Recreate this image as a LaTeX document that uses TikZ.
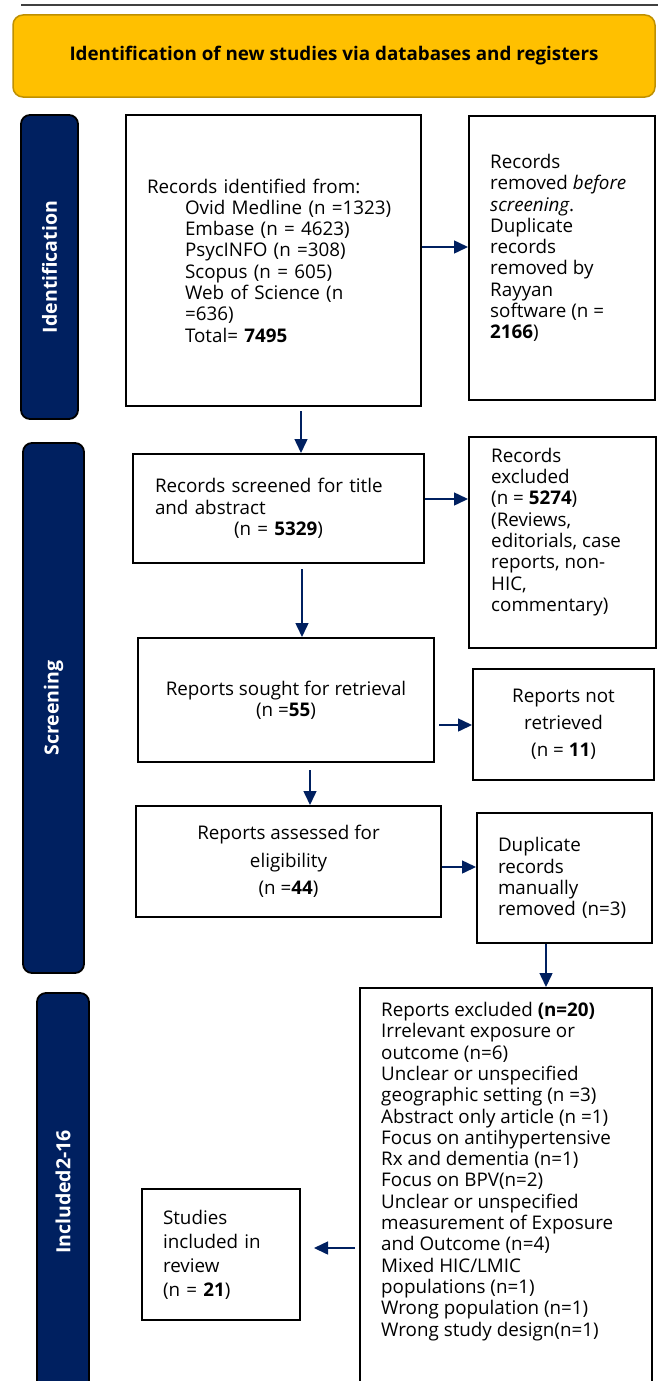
\documentclass[tikz,border=0pt]{standalone}
\usepackage{fontspec}
\setmainfont{Open Sans}
\usetikzlibrary{arrows.meta}
\definecolor{navy}{HTML}{002060}
\definecolor{gold}{HTML}{FFC000}
\definecolor{golddark}{HTML}{BF9000}
\definecolor{rulegray}{HTML}{404040}
\newcommand{\bodysize}{\fontsize{18.8}{21.3}\selectfont}
\newcommand{\barsize}{\fontsize{19.5}{22}\selectfont}
\begin{document}
\begin{tikzpicture}[x=1pt,y=-1pt,
  box/.style={draw=black, line width=2pt, fill=white, inner sep=0pt, font=\bodysize},
  txt/.style={inner sep=0pt, align=left, font=\bodysize},
  bar/.style={draw=black, line width=1.8pt, fill=navy, rounded corners=9pt, inner sep=0pt},
  barlabel/.style={rotate=90, text=white, font=\barsize\bfseries, inner sep=0pt},
  arr/.style={draw=navy, line width=1.5pt, -{Triangle[length=14pt,width=13pt]}},
  titlebox/.style={draw=golddark, line width=1.5pt, fill=gold, rounded corners=10pt, font=\fontsize{18.8}{22}\selectfont\bfseries}]
\useasboundingbox (0,0) rectangle (658,1381);
\clip (0,0) rectangle (658,1381);
\fill[white] (0,0) rectangle (658,1381);

\draw[draw=rulegray, line width=2pt] (21,5) -- (658,5);
\node[titlebox, minimum width=642pt, minimum height=82pt] (title) at (334,56) {Identification of new studies via databases and registers};

% side bars
\node[bar, minimum width=57pt, minimum height=304pt] (bar1) at (49.5,267) {};
\node[barlabel] (lab1) at (bar1.center) {Identification};
\node[bar, minimum width=61pt, minimum height=530pt] (bar2) at (53.5,708) {};
\node[barlabel] (lab2) at (bar2.center) {Screening};
\node[bar, minimum width=52pt, minimum height=427pt] (bar3) at (63,1206.5) {};
\node[barlabel] (lab3) at (63,1192) {Included2-16};

% boxes
\node[box, minimum width=295pt, minimum height=291pt, text width=253pt, inner xsep=21pt, align=left] (b1) at (273.5,260.5)
{Records identified from:\\
\hspace*{38pt}Ovid Medline (n =1323)\\
\hspace*{38pt}Embase (n = 4623)\\
\hspace*{38pt}PsycINFO (n =308)\\
\hspace*{38pt}Scopus (n = 605)\\
\hspace*{38pt}Web of Science (n\\
\hspace*{38pt}=636)\\
\hspace*{38pt}Total= \textbf{7495}};

\node[box, minimum width=186pt, minimum height=284pt] (b2) at (562,258) {};
\node[txt, anchor=west] (b2t) at (490,248)
{Records\\
removed \textit{before}\\
\textit{screening}.\\
Duplicate\\
records\\
removed by\\
Rayyan\\
software (n =\\
\textbf{2166})};

\node[box, minimum width=291pt, minimum height=109pt, text width=247pt, inner xsep=22pt, align=left] (b3) at (278.5,508.5)
{Records screened for title\\
and abstract\\
\makebox[247pt]{(n = \textbf{5329})}};

\node[box, minimum width=187pt, minimum height=211pt] (ex1) at (562.5,542.5) {};
\node[txt, anchor=west] (ex1t) at (491,532)
{Records\\
excluded\\
(n = \textbf{5274})\\
(Reviews,\\
editorials, case\\
reports, non-\\
HIC,\\
commentary)};

\node[box, minimum width=296pt, minimum height=124pt, align=center] (b4) at (286,700)
{Reports sought for retrieval\\
(n =\textbf{55})};

\node[box, minimum width=181pt, minimum height=111pt, align=center, font=\fontsize{18.8}{27}\selectfont] (nr) at (563.5,724.5)
{Reports not\\
retrieved\\
(n = \textbf{11})};

\node[box, minimum width=305pt, minimum height=111pt, align=center, font=\fontsize{18.8}{27.5}\selectfont] (b5) at (288.5,861.5)
{Reports assessed for\\
eligibility\\
(n =\textbf{44})};

\node[box, minimum width=175pt, minimum height=130pt, text width=133pt, inner xsep=21pt, align=left] (dup) at (564.5,878)
{Duplicate\\
records\\
manually\\
removed (n=3)};

\node[box, minimum width=292pt, minimum height=432pt] (ex2) at (506,1204) {};
\node[txt, anchor=north west] (ex2t) at (381,1002)
{Reports excluded \textbf{(n=20)}\\
Irrelevant exposure or\\
outcome (n=6)\\
Unclear or unspecified\\
geographic setting (n =3)\\
Abstract only article (n =1)\\
Focus on antihypertensive\\
Rx and dementia (n=1)\\
Focus on BPV(n=2)\\
Unclear or unspecified\\
measurement of Exposure\\
and Outcome (n=4)\\
Mixed HIC/LMIC\\
populations (n=1)\\
Wrong population (n=1)\\
Wrong study design(n=1)};

\node[box, minimum width=158pt, minimum height=131pt, text width=116pt, inner xsep=21pt, align=left, font=\fontsize{18.8}{24}\selectfont] (inc) at (221,1254.5)
{Studies\\
included in\\
review\\
(n = \textbf{21})};

% connectors
\draw[arr] ([yshift=13.5pt]b1.east) -- ([yshift=13.5pt]b1.east -| b2.west);
\draw[arr] ([shift={(27.5pt,-4pt)}]b1.south) coordinate (s1) -- (s1 |- b3.north);
\draw[arr] ([yshift=9.5pt]b3.east) -- ([yshift=9.5pt]b3.east -| ex1.west);
\draw[arr] ([shift={(23.5pt,-5pt)}]b3.south) coordinate (s2) -- (s2 |- b4.north);
\draw[arr] ([shift={(4pt,-25pt)}]b4.east) coordinate (s3) -- (s3 -| nr.west);
\draw[arr] ([shift={(24pt,-7pt)}]b4.south) coordinate (s4) -- (s4 |- b5.north);
\draw[arr] ([yshift=-5.5pt]b5.east) -- ([yshift=-5.5pt]b5.east -| dup.west);
\draw[arr] ([xshift=-18.5pt]dup.south) -- ([xshift=-18.5pt]dup.south |- ex2.north);
\draw[arr] ([shift={(-4pt,6.5pt)}]ex2.west |- inc.east) coordinate (s5) -- ([xshift=13pt]s5 -| inc.east);
\end{tikzpicture}
\end{document}
